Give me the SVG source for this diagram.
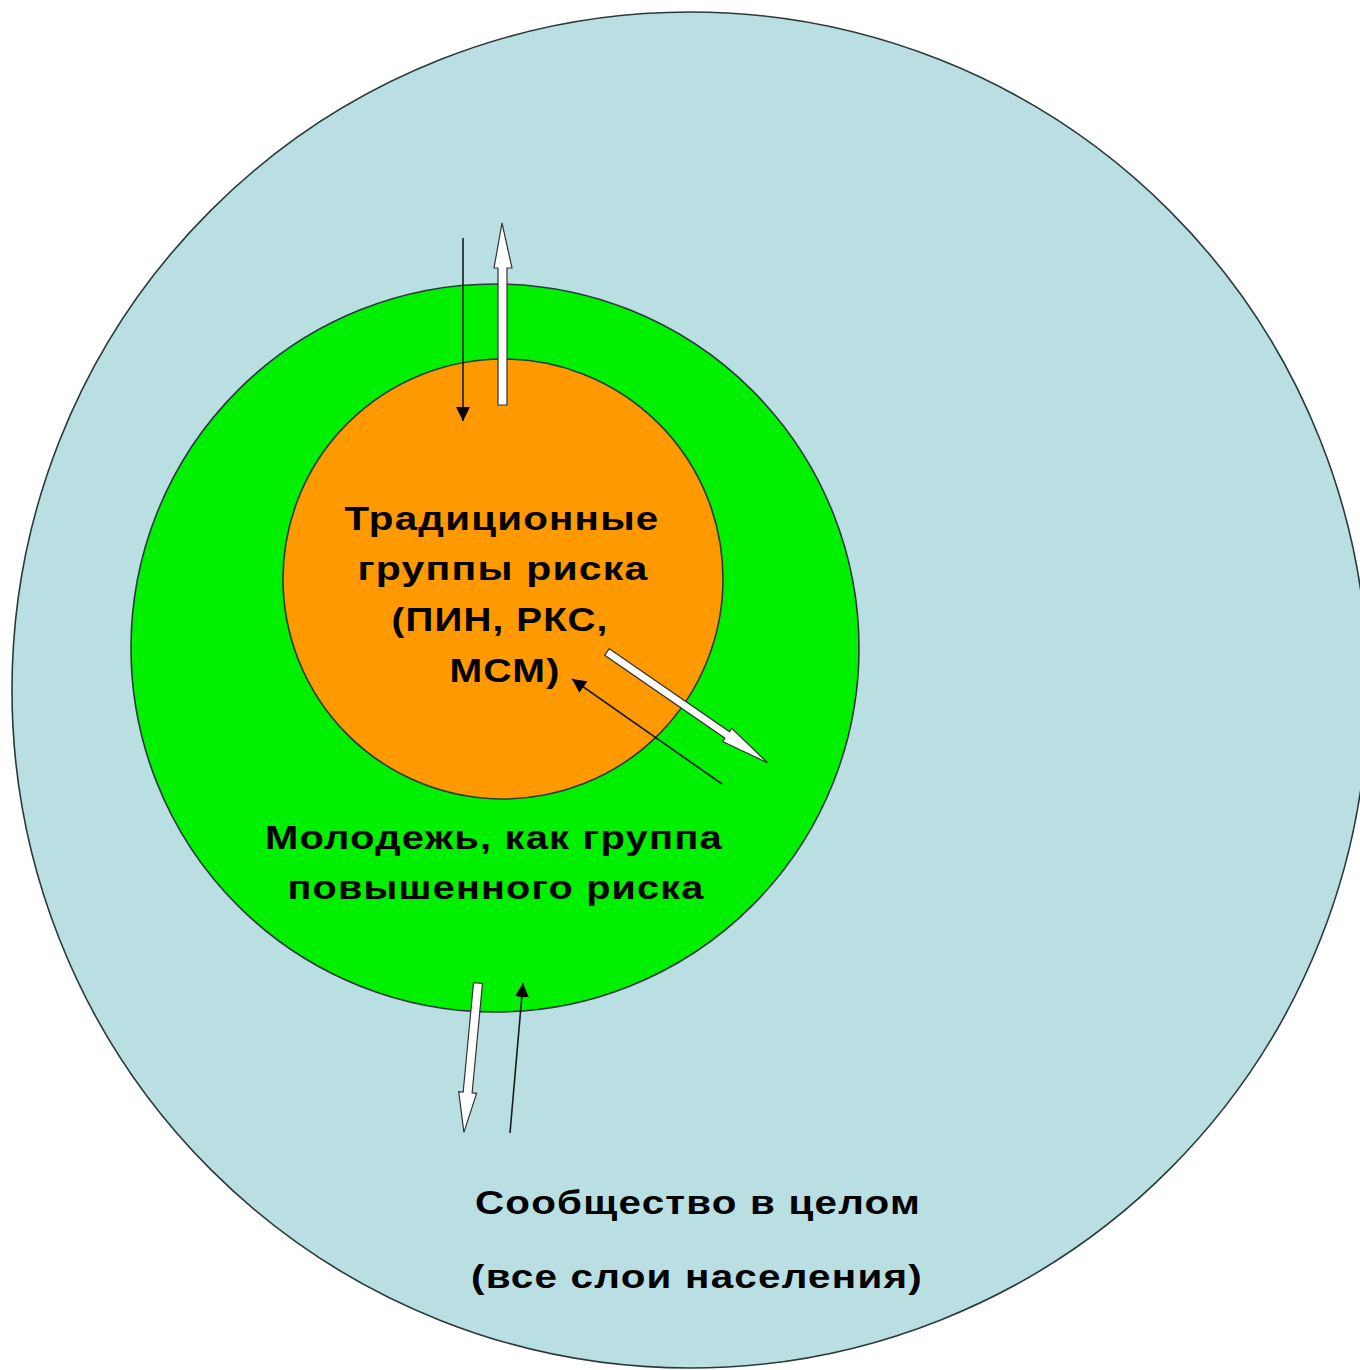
<svg xmlns="http://www.w3.org/2000/svg" width="1360" height="1370" viewBox="0 0 1360 1370">
<style>
.ring{stroke:#2a3a3a;stroke-width:1.6}
.lbl{font-family:"Liberation Sans",Arial,sans-serif;font-weight:bold;font-size:33px;fill:#000;text-anchor:middle;letter-spacing:1px}
.thin{stroke:#1a1a1a;stroke-width:1.6;fill:none}
.block{fill:#ffffff;stroke:#333333;stroke-width:1.2;stroke-linejoin:miter}
</style>
<defs>
<marker id="ah" viewBox="0 0 14 14" refX="14" refY="7" markerWidth="14" markerHeight="14" markerUnits="userSpaceOnUse" orient="auto">
<path d="M0,0 L14,7 L0,14 Z" fill="#000"/>
</marker>
</defs>
<rect width="1360" height="1370" fill="#ffffff"/>
<g id="community">
<circle class="ring" cx="690" cy="690" r="678" fill="#b9dfe2"/>
<text class="lbl" x="698" y="1214" textLength="446" lengthAdjust="spacingAndGlyphs">Сообщество в целом</text>
<text class="lbl" x="697" y="1288" textLength="452" lengthAdjust="spacingAndGlyphs">(все слои населения)</text>
</g>
<g id="youth">
<circle class="ring" cx="495" cy="648" r="364" fill="#00f000"/>
<text class="lbl" x="494" y="849" textLength="458" lengthAdjust="spacingAndGlyphs">Молодежь, как группа</text>
<text class="lbl" x="496" y="899" textLength="417" lengthAdjust="spacingAndGlyphs">повышенного риска</text>
</g>
<g id="traditional">
<circle class="ring" cx="503" cy="579" r="220" fill="#ff9900"/>
<text class="lbl" x="502" y="530" textLength="315" lengthAdjust="spacingAndGlyphs">Традиционные</text>
<text class="lbl" x="503" y="580" textLength="291" lengthAdjust="spacingAndGlyphs">группы риска</text>
<text class="lbl" x="500" y="631" textLength="217" lengthAdjust="spacingAndGlyphs">(ПИН, РКС,</text>
<text class="lbl" x="505" y="682" textLength="111" lengthAdjust="spacingAndGlyphs">МСМ)</text>
</g>
<g id="connectors">
<line class="thin" x1="463" y1="238" x2="463" y2="421" marker-end="url(#ah)"/>
<path class="block" d="M498,405 L507,405 L507,268 L512,268 L502,223 L494,268 L498,268 Z"/>
<g transform="translate(607,652) rotate(34.6)">
<path class="block" d="M0,-4 L146,-4 L146,-8 L195,0 L146,8 L146,4 L0,4 Z"/>
</g>
<line class="thin" x1="722" y1="784" x2="572" y2="679" marker-end="url(#ah)"/>
<g transform="translate(478,983) rotate(95.4)">
<path class="block" d="M0,-4.5 L110,-4.5 L110,-9 L150,0 L110,9 L110,4.5 L0,4.5 Z"/>
</g>
<line class="thin" x1="510" y1="1133" x2="523" y2="983" marker-end="url(#ah)"/>
</g>
</svg>
